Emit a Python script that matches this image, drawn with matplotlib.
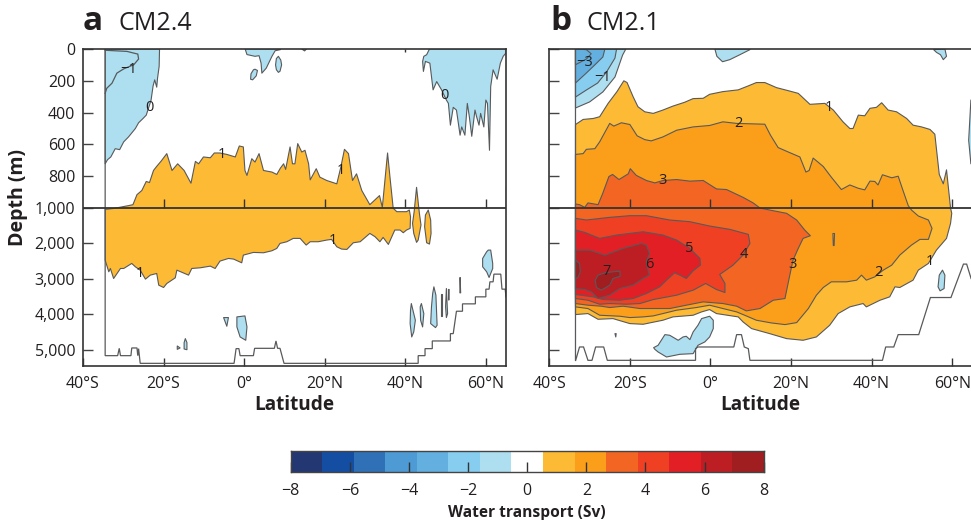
import numpy as np
import matplotlib
matplotlib.use("Agg")
import matplotlib.pyplot as plt

plt.rcParams['font.family'] = ['Open Sans', 'DejaVu Sans']

# ---------- colour scale ----------
cbar_colors = ['#233873', '#134ea2', '#2f70b7', '#4d9ad5', '#63b0e0', '#87cdf0', '#addff0', '#ffffff',
               '#fdba35', '#fb9f1b', '#f36523', '#f04023', '#e31f26', '#bd1e24', '#a01d20']
cbar_ticks = [-8, -6, -4, -2, 0, 2, 4, 6, 8]
depth_ticks = [0, 200, 400, 600, 800, 1000, 2000, 3000, 4000, 5000]
depth_labels = ['0', '200', '400', '600', '800', '1,000', '2,000', '3,000', '4,000', '5,000']
lat_ticks = [-40, -20, 0, 20, 40, 60]
lat_labels = ['40°S', '20°S', '0°', '20°N', '40°N', '60°N']

# ---------- panel a : (latitude, depth) ----------
a_neg_west = [(-21.0,0),(-21.1,110),(-21.5,184),(-21.7,240),(-22.2,194),(-22.6,232),(-23.1,321),(-24.3,416),(-25.1,437),
              (-26.2,464),(-27.0,500),(-28.7,553),(-29.9,584),(-30.9,633),(-32.0,627),(-33.1,679),(-33.9,696),(-34.5,722),(-34.5,0)]
a_line_m1 = [(-34.5,8),(-29.1,15),(-26.4,32),(-26.2,63),(-27.4,99),(-29.9,125),(-31.6,152),(-32.8,215),(-34.1,247),(-34.5,279)]
a_neg_eq1 = [(0.25,0),(0.7,35),(2.7,46),(3.7,42),(4.2,89),(4.4,152),(5.5,120),(6.9,46),(7.7,11),(9.0,4),(9.0,0)]
a_neg_eq2 = [(8.5,46),(9.1,70),(9.3,100),(8.9,140),(8.5,147),(8.0,130),(7.8,100),(8.0,60)]
a_neg_eq3 = [(2.7,127),(3.3,135),(3.0,169),(2.1,194),(1.6,190),(1.7,156),(2.3,131)]
a_neg_eq4 = [(14.3,0),(15.0,12),(15.5,0)]
a_neg_east = [(46.0,0),(45.3,36),(44.6,46),(44.3,78),(44.5,141),(45.0,78),(46.1,89),(46.9,257),(47.8,205),(49.0,257),(50.2,321),
              (50.7,342),(51.2,479),(51.9,367),(52.7,384),(53.6,542),(54.0,490),(54.8,542),(55.4,342),(55.9,426),(56.5,549),
              (57.3,384),(57.7,426),(58.3,479),(58.7,405),(59.5,490),(60.0,321),(60.4,342),(60.9,637),(61.2,236),(61.8,131),
              (62.8,190),(63.6,89),(64.3,46),(65.0,25),(65.0,0)]
a_pos_main = [(-34.5,1038),(-32.4,1013),(-28.7,985),(-27.6,979),(-26.6,916),(-25.4,890),(-24.3,833),(-23.5,840),(-22.5,764),
              (-21.7,738),(-20.6,705),(-19.2,658),(-17.9,764),(-16.5,722),(-14.9,764),(-13.2,844),(-12.1,707),(-11.3,722),
              (-10.1,679),(-8.4,684),(-7.4,654),(-6.0,654),(-4.3,663),(-2.2,679),(-1.2,610),(-0.2,616),(0.2,764),(0.7,795),
              (1.9,690),(2.7,711),(3.7,658),(4.8,764),(6.9,774),(8.1,789),(9.0,749),(9.8,722),(10.3,757),(11.4,616),(12.0,722),
              (12.6,722),(13.3,595),(14.3,648),(15.1,637),(16.0,722),(16.4,823),(17.9,753),(18.8,806),(20.5,827),(23.0,848),
              (24.0,743),(24.9,631),(25.9,658),(26.9,827),(27.9,785),(29.2,890),(31.2,979),(33.6,922),(34.3,996),(35.6,654),
              (36.2,806),(37.0,1006),(37.9,1104),(40.3,1104),(41.0,1057),(41.3,1245),(41.2,1575),(40.3,1622),(39.5,1698),
              (38.7,1622),(37.4,1622),(35.8,2028),(34.5,1830),(33.7,1952),(32.5,1811),(31.2,1717),(28.8,1952),(27.1,1981),
              (25.5,2169),(24.2,2160),(23.0,2094),(21.7,1886),(20.5,1905),(18.4,1952),(16.4,1952),(15.4,2047),(13.9,1858),
              (12.2,1858),(10.6,1952),(8.9,2000),(8.1,2141),(6.9,2207),(4.8,2264),(2.3,2254),(-0.2,2330),(-0.6,2547),(-2.6,2443),
              (-3.9,2424),(-6.0,2499),(-7.2,2707),(-8.4,2641),(-10.9,2688),(-13.0,2707),(-13.8,2895),(-16.7,2754),(-17.1,2971),
              (-19.2,3131),(-20.0,3244),(-21.2,3178),(-21.7,2848),(-23.3,2895),(-24.5,3008),(-25.8,2754),(-27.0,2660),(-27.9,2565),
              (-29.9,2707),(-30.7,2707),(-32.4,2990),(-33.2,2707),(-33.6,2801),(-34.5,2471)]
a_pos_oval1 = [(42.8,870),(43.5,1150),(43.9,1480),(43.2,1905),(42.8,1970),(42.1,1717),(41.8,1434),(42.2,1104)]
a_pos_oval2 = [(45.7,1057),(46.3,1340),(46.4,1717),(46.0,2018),(45.3,1981),(44.8,1528),(45.0,1198)]
a_deep_1 = [(60.6,2188),(61.2,2188),(61.7,2565),(61.7,2707),(60.8,2961),(60.2,2801),(59.2,2660),(59.2,2424),(60.2,2235)]
a_deep_2 = [(53.6,2961),(53.75,3395),(53.55,3395)]
a_deep_3 = [(47.1,3225),(47.6,3461),(47.9,4310),(47.5,4376),(46.3,4263),(46.5,3791),(46.8,3414)]
a_deep_4 = [(48.9,3433),(49.2,3433),(49.2,4055),(48.9,4055)]
a_deep_5 = [(50.2,3272),(50.5,3980),(50.2,4093),(50.0,3791)]
a_deep_6 = [(50.7,3300),(50.9,3300),(50.8,3600)]
a_deep_7 = [(44.0,3697),(44.6,3980),(44.3,4357),(43.8,4168),(43.7,3791)]
a_deep_8 = [(41.5,3697),(42.5,4168),(42.1,4499),(41.6,4640),(41.2,4263),(41.3,3885)]
a_deep_9 = [(-1.8,4074),(0.2,4046),(0.7,4357),(0.4,4734),(-1.0,4640),(-1.8,4357)]
a_deep_10 = [(-5.1,4093),(-3.9,4093),(-4.3,4338),(-4.7,4216)]
a_deep_11 = [(-14.6,4687),(-14.2,4800),(-14.2,5000),(-14.9,4980),(-14.9,4800)]
a_deep_12 = [(-16.6,4895),(-15.9,4950),(-16.6,4990)]
a_floor = [(-34.5,0),(-34.5,5168),(-31.4,5168),(-31.0,4961),(-30.7,5168),(-28.1,5168),(-27.9,4951),(-26.6,4951),(-26.4,5168),
           (-26.2,4970),(-25.8,5385),(-2.5,5385),(-2.0,4970),(-1.3,4970),(-1.0,5168),(2.3,5168),(2.6,4961),(7.5,4961),(7.9,4753),
           (8.3,4961),(8.9,4961),(9.9,5385),(43.2,5385),(43.2,5168),(44.9,5168),(44.9,4970),(46.7,4970),(46.7,4753),(51.2,4753),
           (51.2,4546),(51.9,4546),(52.7,3914),(54.2,3914),(54.2,3706),(57.4,3706),(57.4,3508),(60.0,3508),(60.0,3291),(60.8,3291),
           (61.0,3084),(61.8,3084),(62.0,2867),(63.7,2867),(64.0,3291),(64.8,3291),(65.0,3508)]
a_labels = ['−1', '0', '1', '1', '0', '1', '1']
a_label_lat = [-28.7, -23.6, -5.5, 24.0, 49.6, 22.1, -26.0]
a_label_depth = [127, 369, 665, 764, 295, 1924, 2848]

# ---------- panel b : (latitude, depth) ----------
b_level1 = [(-33.5,475),(-31.6,443),(-29.1,437),(-27.5,426),(-25.4,342),(-23.2,268),(-21.5,200),(-20.7,211),(-19.2,300),(-18.0,363),
            (-16.3,395),(-14.2,405),(-11.8,384),(-9.3,359),(-6.4,335),(-4.3,312),(-1.8,310),(-0.2,285),(3.1,268),(6.9,257),(9.4,232),
            (11.4,211),(13.5,211),(16.4,243),(19.3,262),(21.8,279),(24.7,348),(28.4,342),(30.5,384),(32.9,458),(34.6,500),(35.4,500),
            (36.7,416),(38.3,420),(39.6,373),(41.2,367),(42.5,338),(44.1,384),(46.2,395),(48.7,437),(50.3,479),(52.4,490),(54.5,506),
            (55.7,536),(56.8,789),(57.8,848),(58.6,760),(59.6,1000),(59.9,1150),(59.6,1434),(58.6,1858),(56.1,2188),(54.1,2565),
            (51.6,2754),(50.3,3037),(47.0,3244),(45.8,3225),(44.5,3508),(42.1,3603),(38.7,3791),(37.9,3697),(34.6,3791),(31.7,3980),
            (29.6,4310),(26.3,4640),(23.0,4734),(18.9,4687),(14.7,4546),(10.2,4404),(8.1,4216),(6.9,4074),(1.5,3980),(-0.2,3867),
            (-2.2,3933),(-4.3,4027),(-9.3,4074),(-11.8,4168),(-15.1,4244),(-16.7,4282),(-20.0,4263),(-24.2,4122),(-27.9,4141),
            (-30.4,3980),(-33.5,4008)]
b_level2 = [(-33.5,663),(-31.6,658),(-30.8,631),(-28.7,627),(-27.5,584),(-25.0,468),(-24.0,485),(-22.1,464),(-20.0,475),(-18.2,546),
            (-16.3,570),(-14.7,578),(-11.8,553),(-8.4,511),(-4.3,490),(-0.2,481),(3.1,458),(6.5,468),(13.5,473),(14.9,542),(16.8,620),
            (19.7,652),(22.2,679),(23.7,774),(24.5,764),(25.5,686),(28.0,739),(30.0,806),(32.5,884),(34.6,855),(36.7,876),(38.3,886),
            (39.6,831),(40.8,833),(41.6,855),(42.7,791),(45.0,810),(46.6,800),(47.8,890),(49.1,985),(49.9,1057),(51.6,1226),(54.1,1339),
            (55.0,1575),(54.1,1886),(52.0,1886),(49.9,2047),(47.0,2330),(45.0,2613),(42.9,2754),(40.8,2943),(38.7,3037),(37.5,2895),
            (36.3,3037),(33.8,3084),(30.0,3084),(28.0,3244),(26.3,3461),(24.3,3838),(21.4,4235),(18.5,4291),(15.1,4244),(11.4,4168),
            (8.5,4027),(6.5,3933),(3.1,3838),(-0.2,3744),(-3.5,3810),(-8.4,3885),(-11.8,3980),(-14.2,4046),(-16.7,4074),(-20.0,4093),
            (-22.5,4055),(-27.5,4027),(-30.4,3838),(-33.5,3791)]
b_level3 = [(-33.5,975),(-32.5,979),(-31.2,996),(-30.4,968),(-27.9,979),(-26.8,912),(-25.2,802),(-24.3,789),(-22.7,821),(-20.4,785),
            (-19.9,753),(-18.4,795),(-15.9,827),(-13.8,842),(-11.8,827),(-8.4,821),(-5.1,831),(-1.8,827),(1.5,880),(4.0,884),(8.1,933),
            (10.6,968),(12.3,1000),(14.7,1057),(18.9,1150),(21.4,1339),(23.4,1622),(24.8,1783),(23.0,1858),(21.8,2141),(20.5,2471),
            (19.7,2895),(18.5,3556),(15.6,3603),(12.3,3838),(8.9,3904),(6.5,3772),(3.1,3697),(-1.8,3650),(-6.0,3744),(-10.1,3838),
            (-14.2,3838),(-17.5,3838),(-21.7,3772),(-25.0,3810),(-27.1,3772),(-30.4,3744),(-33.5,3697)]
b_level4 = [(-33.5,1292),(-30.8,1339),(-25.0,1264),(-20.0,1217),(-15.9,1217),(-10.1,1339),(-5.1,1387),(-0.2,1509),(4.8,1603),(9.4,1745),
            (9.8,2000),(8.1,2330),(5.6,2613),(2.3,2877),(3.6,3131),(3.6,3386),(1.5,3301),(-1.2,3131),(-4.3,3320),(-8.4,3461),(-14.2,3584),
            (-17.5,3697),(-20.9,3716),(-25.0,3697),(-27.5,3716),(-30.4,3603),(-33.5,3556)]
b_level5 = [(-33.5,1622),(-31.2,1688),(-27.5,1858),(-23.3,1764),(-16.7,1670),(-11.8,1764),(-8.4,1905),(-5.1,2141),(-2.6,2424),(-2.5,2613),
            (-4.3,2773),(-6.0,2990),(-7.6,2895),(-8.9,2829),(-10.9,3037),(-12.6,3225),(-15.9,3414),(-19.2,3556),(-22.5,3603),(-26.7,3584),
            (-29.1,3508),(-33.5,3442)]
b_level6 = [(-33.5,2188),(-30.0,2188),(-26.2,2330),(-21.7,2141),(-17.1,2000),(-15.9,2047),(-15.1,2282),(-15.9,2518),(-15.2,2895),
            (-16.7,2990),(-19.2,3178),(-22.5,3273),(-25.0,3461),(-27.9,3556),(-29.6,3367),(-31.2,3301),(-33.5,3273)]
b_level7a = [(-26.2,2829),(-24.2,2801),(-22.5,2782),(-22.4,2924),(-24.2,2990),(-25.0,3178),(-27.1,3320),(-28.3,3244),(-28.6,3037),(-27.9,2895)]
b_level7b = [(-33.5,2471),(-32.5,2565),(-32.3,2801),(-32.9,2961),(-33.5,2990)]
b_neg0 = [(-33.5,0),(-21.0,0),(-21.8,38),(-23.7,176),(-26.7,270),(-30.0,333),(-33.5,371)]
b_neg1 = [(-33.5,0),(-23.3,0),(-23.7,57),(-25.8,145),(-28.0,214),(-30.8,258),(-33.5,302)]
b_neg2 = [(-33.5,0),(-26.2,0),(-26.7,50),(-28.7,100),(-30.8,151),(-33.5,214)]
b_neg3 = [(-33.5,0),(-30.8,4),(-29.6,30),(-30.8,63),(-33.5,99)]
b_neg_top = [(1.1,0),(1.6,46),(3.0,80),(4.8,67),(7.3,36),(9.8,4),(9.8,0)]
b_neg_top2 = [(55.4,4),(56.1,21),(57.1,36),(57.8,67),(58.6,46),(58.2,0)]
b_neg_east = [(65.0,321),(64.65,321),(64.1,574),(64.65,722),(65.0,722)]
b_neg_deep1 = [(-14.1,4942),(-13.0,4876),(-11.3,4574),(-10.1,4593),(-8.0,4734),(-6.8,4640),(-6.0,4621),(-5.1,4715),(-4.3,4499),
               (-3.1,4310),(-2.2,4122),(-0.2,4055),(0.7,4168),(0.7,4404),(-0.2,4640),(-1.4,4781),(-3.1,4876),(-4.3,5111),
               (-7.6,5130),(-10.9,5206),(-13.0,5064),(-13.8,4989)]
b_neg_deep2 = [(57.6,2754),(58.2,2895),(58.0,3273),(57.0,3339),(56.5,3225),(56.8,2895)]
b_neg_speck = [(-23.7,4546),(-23.4,4546),(-23.5,4640)]
b_sliver = [(30.4,1720),(30.8,1720),(30.7,2060),(30.5,2060)]
b_floor = [(-33.5,0),(-33.5,5319),(-32.5,4923),(-31.5,4923),(-30.4,5300),(-29.4,5300),(-28.5,4923),(-26.5,4923),(-25.6,5300),(-3.7,5300),
           (-3.7,4970),(-3.1,4923),(5.8,4923),(6.5,4574),(7.7,4574),(8.4,4923),(9.4,4970),(9.8,5300),(42.7,5300),(43.5,4923),(45.5,4923),
           (46.6,4574),(51.7,4574),(54.6,3527),(59.7,3527),(62.8,2584),(63.6,2584),(64.7,2990)]
b_labels = ['−3', '−1', '1', '2', '3', '5', '6', '7', '4', '3', '2', '1']
b_label_lat = [-31.2, -26.7, 29.5, 7.0, -11.8, -5.3, -15.1, -25.7, 8.2, 20.4, 41.6, 54.5]
b_label_depth = [84, 177, 367, 468, 827, 2141, 2584, 2801, 2301, 2584, 2830, 2518]

# ---------- figure ----------
W, H = 971, 520
INK = '#231f20'
LINE = '#58595b'
fig = plt.figure(figsize=(W / 100, H / 100), dpi=100, facecolor='white')


def to_frac(x0, y0, x1, y1):
    return [x0 / W, 1 - y1 / H, (x1 - x0) / W, (y1 - y0) / H]


def fwd(d):
    return np.interp(d, [0, 1000, 5460], [0, 159, 317])


def inv(p):
    return np.interp(p, [0, 159, 317], [0, 1000, 5460])


def patch(ax, pts, color, lw=0.8, z=2):
    pts = np.array(pts, dtype=float)
    ax.fill(pts[:, 0], pts[:, 1], facecolor=color, edgecolor=LINE, linewidth=lw, zorder=z, joinstyle='round')


def line(ax, pts, z=3, lw=0.9):
    pts = np.array(pts, dtype=float)
    ax.plot(pts[:, 0], pts[:, 1], color=LINE, lw=lw, zorder=z, solid_joinstyle='miter')


def frame(ax, show_labels):
    ax.set_yscale('function', functions=(fwd, inv))
    ax.set_xlim(-40, 65)
    ax.set_ylim(5460, 0)
    ax.set_yticks(depth_ticks)
    ax.set_xticks(lat_ticks)
    ax.set_xticklabels(lat_labels)
    ax.set_yticklabels(depth_labels if show_labels else [])
    ax.minorticks_off()
    ax.tick_params(axis='y', direction='in', length=7, width=1.0, color='#444444', labelsize=11.5, labelcolor=INK, pad=5.5)
    ax.tick_params(axis='x', direction='in', length=6, width=1.0, color='#333333', labelsize=11.5, labelcolor=INK, pad=7.3)
    for s in ax.spines.values():
        s.set_color('#333333')
        s.set_linewidth(1.2)
        s.set_zorder(6)
    ax.axhline(1000, color='#333333', lw=1.3, zorder=5)
    ax.vlines(lat_ticks[1:], 1000 - 57, 1000, color='#333333', lw=1.0, zorder=5)
    ax.set_xlabel('Latitude', fontsize=13.7, fontweight='bold', color=INK, labelpad=2)


def numbers(ax, labels, lats, depths):
    for s, x, y in zip(labels, lats, depths):
        ax.text(x, y, s, fontsize=10.5, color=INK, ha='center', va='center', zorder=7)


# panel a
axa = fig.add_axes(to_frac(83, 49, 506, 366))
frame(axa, True)
for poly in [a_neg_west, a_neg_eq1, a_neg_eq2, a_neg_eq3, a_neg_eq4, a_neg_east, a_deep_1, a_deep_2, a_deep_3, a_deep_4,
             a_deep_5, a_deep_6, a_deep_7, a_deep_8, a_deep_9, a_deep_10, a_deep_11, a_deep_12]:
    patch(axa, poly, cbar_colors[6])
for poly in [a_pos_main, a_pos_oval1, a_pos_oval2]:
    patch(axa, poly, cbar_colors[8])
line(axa, a_line_m1)
line(axa, a_floor, z=4)
axa.vlines([40], 0, 20, color='#333333', lw=1.0, zorder=5)
axa.vlines([65], 860, 1000, color='#777777', lw=1.0, zorder=5)
numbers(axa, a_labels, a_label_lat, a_label_depth)
fig.text(18 / W, 1 - 198 / H, 'Depth (m)', rotation=90, fontsize=14, fontweight='bold', color=INK, ha='center', va='center')

# panel b
axb = fig.add_axes(to_frac(549.3, 49, 972.3, 366))
frame(axb, False)
patch(axb, b_level1, cbar_colors[8])
patch(axb, b_level2, cbar_colors[9])
patch(axb, b_level3, cbar_colors[10])
patch(axb, b_level4, cbar_colors[11])
patch(axb, b_level5, cbar_colors[12])
patch(axb, b_level6, cbar_colors[13])
patch(axb, b_level7a, cbar_colors[14])
patch(axb, b_level7b, cbar_colors[14])
patch(axb, b_neg0, cbar_colors[6])
patch(axb, b_neg1, cbar_colors[5])
patch(axb, b_neg2, cbar_colors[4])
patch(axb, b_neg3, cbar_colors[4])
for poly in [b_neg_top, b_neg_top2, b_neg_east, b_neg_deep1, b_neg_deep2, b_neg_speck]:
    patch(axb, poly, cbar_colors[6])
patch(axb, b_sliver, cbar_colors[8])
line(axb, b_floor, z=4)
numbers(axb, b_labels, b_label_lat, b_label_depth)

# panel titles
fig.text(83 / W, 1 - 21 / H, 'a', fontsize=24, fontweight='bold', color=INK, va='center', ha='left')
fig.text(118 / W, 1 - 23 / H, 'CM2.4', fontsize=18, color=INK, va='center', ha='left')
fig.text(550 / W, 1 - 21 / H, 'b', fontsize=24, fontweight='bold', color=INK, va='center', ha='left')
fig.text(587 / W, 1 - 23 / H, 'CM2.1', fontsize=18, color=INK, va='center', ha='left')

# colour bar
cax = fig.add_axes(to_frac(290.7, 450.7, 763.7, 472))
edges = np.linspace(cbar_ticks[0], cbar_ticks[-1], len(cbar_colors) + 1)
for i, c in enumerate(cbar_colors):
    cax.barh(0.5, edges[i + 1] - edges[i], left=edges[i], height=1, color=c, linewidth=0)
cax.set_xlim(cbar_ticks[0], cbar_ticks[-1])
cax.set_ylim(0, 1)
cax.set_yticks([])
cax.set_xticks(cbar_ticks)
cax.set_xticklabels([('−' + str(-t)) if t < 0 else str(t) for t in cbar_ticks])
cax.tick_params(axis='x', direction='in', length=7, width=1.0, color='#333333', labelsize=11.5, labelcolor=INK, pad=7.6)
for s in cax.spines.values():
    s.set_color('#444444')
    s.set_linewidth(1.0)
cax.set_xlabel('Water transport (Sv)', fontsize=11.2, fontweight='bold', color=INK, labelpad=4.5)

fig.savefig('out.png', dpi=100)
